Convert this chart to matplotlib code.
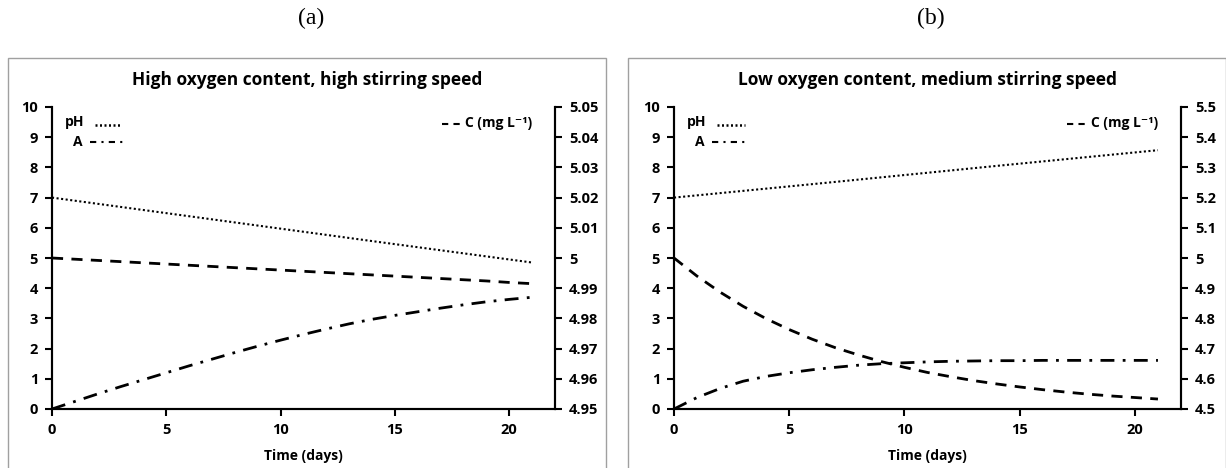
import numpy as np
import matplotlib.pyplot as plt
from matplotlib.lines import Line2D
from matplotlib.patches import Rectangle
from matplotlib.ticker import FuncFormatter

plt.rcParams['font.family'] = ['Open Sans', 'DejaVu Sans']
plt.rcParams['font.weight'] = 'bold'

# --- data ---
days = list(range(22))

# (a) high oxygen, high stirring
ph_days_a = [0, 7, 14, 21]
ph_a = [7.0, 6.28, 5.56, 4.85]
abs_a = [0, 0.25, 0.5, 0.74, 0.97, 1.2, 1.43, 1.65, 1.87, 2.08, 2.28,
         2.47, 2.65, 2.82, 2.97, 3.1, 3.22, 3.34, 3.45, 3.55, 3.63, 3.7]
conc_a = [5.0000, 4.9996, 4.9992, 4.9988, 4.9984, 4.9980, 4.9976, 4.9972,
          4.9968, 4.9964, 4.9960, 4.9956, 4.9952, 4.9948, 4.9944, 4.9940,
          4.9936, 4.9932, 4.9928, 4.9924, 4.9919, 4.9915]

# (b) low oxygen, medium stirring
ph_days_b = [0, 7, 14, 21]
ph_b = [7.0, 7.52, 8.05, 8.57]
abs_b = [0, 0.38, 0.68, 0.92, 1.08, 1.2, 1.3, 1.38, 1.45, 1.5, 1.53,
         1.56, 1.58, 1.59, 1.6, 1.6, 1.61, 1.61, 1.61, 1.61, 1.61, 1.61]
conc_b = [5.000, 4.940, 4.887, 4.840, 4.799, 4.763, 4.731, 4.703, 4.679,
          4.657, 4.638, 4.621, 4.607, 4.594, 4.583, 4.573, 4.564, 4.556,
          4.549, 4.543, 4.538, 4.533]

titles = ["High oxygen content, high stirring speed",
          "Low oxygen content, medium stirring speed"]
panel_labels = ["(a)", "(b)"]
right_lims = [(4.95, 5.05), (4.5, 5.5)]
right_ticks = [np.round(np.arange(4.95, 5.0501, 0.01), 2),
               np.round(np.arange(4.5, 5.501, 0.1), 1)]

W, H = 1226, 468
fig = plt.figure(figsize=(W / 100, H / 100), dpi=100)

dot_style = (0, (1, 1.2))
dash_style = (0, (4, 3))
dashdot_style = (0, (5, 3, 1, 3))

ax_px = [(52, 503), (674, 507)]
panel_px = [(8, 606), (628, 1226)]
title_x = [307, 927]

data = [(ph_days_a, ph_a, abs_a, conc_a), (ph_days_b, ph_b, abs_b, conc_b)]

for i in range(2):
    x0, w = ax_px[i]
    ax = fig.add_axes([x0 / W, (H - 409) / H, w / W, 302 / H])
    ax2 = ax.twinx()
    ph_d, ph, ab, co = data[i]

    ax.plot(ph_d, ph, color='black', lw=1.5, linestyle=dot_style)
    ax.plot(days, ab, color='black', lw=2, linestyle=dashdot_style)
    ax2.plot(days, co, color='black', lw=2, linestyle=dash_style)

    ax.set_xlim(0, 22)
    ax.set_ylim(0, 10)
    ax.set_xticks([0, 5, 10, 15, 20])
    ax.set_yticks(range(11))
    ax2.set_ylim(*right_lims[i])
    ax2.set_yticks(right_ticks[i])
    ax2.yaxis.set_major_formatter(FuncFormatter(lambda v, p: f"{round(v, 3):g}"))
    ax.set_xlabel("Time (days)", fontsize=10, fontweight='bold', labelpad=9)

    for a in (ax, ax2):
        a.spines['top'].set_visible(False)
        for s in ('left', 'right', 'bottom'):
            a.spines[s].set_linewidth(1.5)
        a.tick_params(direction='out', length=5, width=1.5, labelsize=10.5, pad=5)
        for lab in a.get_xticklabels() + a.get_yticklabels():
            lab.set_fontweight('bold')

    # in-plot legend
    ax.text(0.026, 0.95, "pH", transform=ax.transAxes, fontsize=10,
            fontweight='bold', va='center', ha='left')
    ax.add_line(Line2D([0.085, 0.14], [0.94, 0.94], transform=ax.transAxes,
                       color='black', lw=1.8, linestyle=(0, (0.8, 1.0))))
    ax.text(0.042, 0.884, "A", transform=ax.transAxes, fontsize=10,
            fontweight='bold', va='center', ha='left')
    ax.add_line(Line2D([0.075, 0.145], [0.884, 0.884], transform=ax.transAxes,
                       color='black', lw=1.5, linestyle=(0, (3, 2.5, 1, 2.5))))
    ax.add_line(Line2D([0.775, 0.815], [0.945, 0.945], transform=ax.transAxes,
                       color='black', lw=1.5, linestyle=(0, (3, 2.5))))
    ax.text(0.822, 0.947, "C (mg L\u207b\u00b9)", transform=ax.transAxes,
            fontsize=10, fontweight='bold', va='center', ha='left')

    # chart frame and titles
    p0, p1 = panel_px[i]
    fig.patches.append(Rectangle((p0 / W, -0.01), (p1 - p0) / W, (H - 58) / H + 0.01,
                                 transform=fig.transFigure, fill=False,
                                 edgecolor='#a0a0a0', lw=1))
    fig.text(title_x[i] / W, (H - 80) / H, titles[i], ha='center', va='center',
             fontsize=12.5, fontweight='bold')
    fig.text(title_x[i] / W + 0.003, (H - 18) / H, panel_labels[i], ha='center',
             va='center', fontsize=17, family='Liberation Serif', fontweight='normal')

fig.savefig("out.png", dpi=100)
